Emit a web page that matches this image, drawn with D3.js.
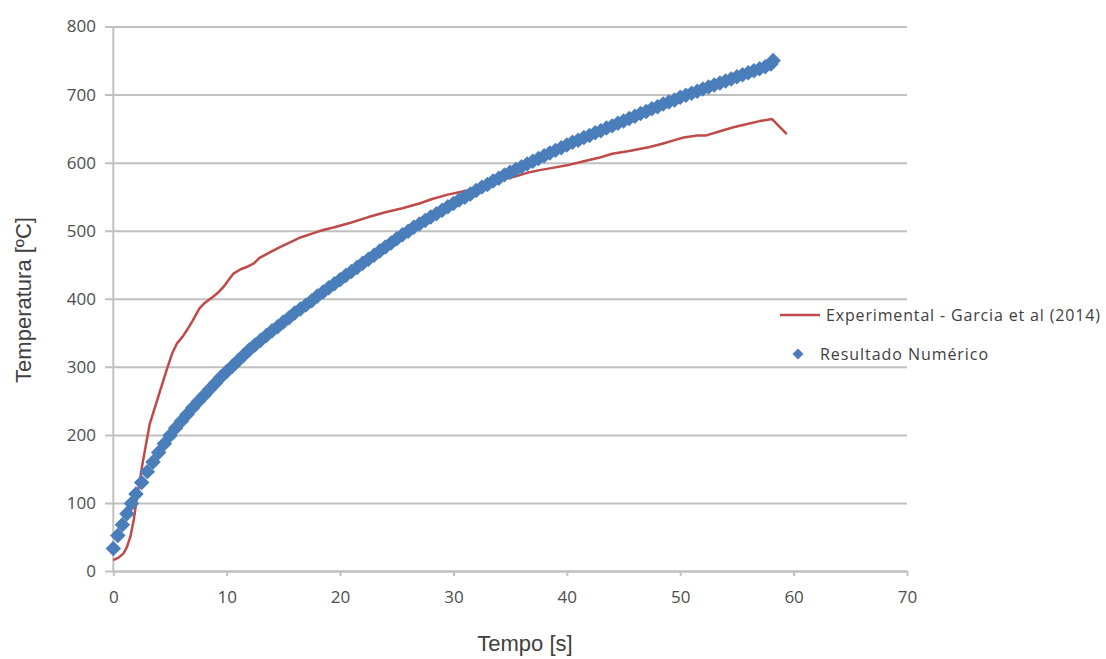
<!DOCTYPE html>
<html>
<head>
<meta charset="utf-8">
<script src="https://cdn.jsdelivr.net/npm/d3@7"></script>
<style>
  body { margin: 0; background: #fff; }
  text { font-family: "Open Sans", "DejaVu Sans", sans-serif; }
</style>
</head>
<body>
<div id="container"></div>
<script>
const w = 1106
const h = 659

// experimental curve (Garcia et al 2014): [time s, temperature C]
const expData = [
    [0, 16], [0.5, 20], [0.9, 26], [1.2, 35], [1.5, 50], [1.8, 75], [2.1, 109], [2.6, 160],
    [3.2, 215], [4, 258], [4.7, 295], [5.2, 320], [5.6, 334], [6.1, 344], [6.5, 354], [7, 368],
    [7.6, 386], [8, 393], [8.8, 403], [9.3, 410], [9.7, 417], [10.1, 426], [10.6, 437], [11.2, 443],
    [11.8, 447], [12.4, 452], [12.9, 460], [13.8, 468], [14.7, 476], [15.5, 482], [16.5, 490],
    [17.6, 496], [18.5, 501], [19.5, 505], [21, 512], [22.5, 520], [24, 527], [25.5, 533],
    [27, 540], [28.2, 547], [29.5, 553], [31.2, 559], [32.5, 565], [34.1, 574], [35.5, 580],
    [36.5, 585], [37.6, 589], [39, 593], [40, 596], [41.5, 602], [43, 608], [44, 613], [45.5, 617],
    [47.3, 623], [48.5, 628], [49.5, 633], [50.3, 637], [51.5, 640], [52.3, 640], [53.5, 646],
    [54.7, 652], [56, 657], [57, 661], [58.1, 664], [59.4, 642]
]

// numerical result: [time s, temperature C]
const numData = [
    [0, 33], [0.4, 52], [0.8, 68], [1.2, 84], [1.6, 99], [2, 113], [2.5, 130], [3, 146], [3.5, 160], [4, 174],
    [4.5, 187], [5, 199], [5.5, 210], [6, 220], [6.5, 230], [7, 240], [7.5, 249], [8, 258],
    [8.5, 267], [9, 276], [9.5, 285], [10, 293], [10.5, 301], [11, 309], [11.5, 317], [12, 325],
    [12.5, 332], [13, 339], [13.5, 346], [14, 353], [14.5, 359], [15, 366], [15.5, 372], [16, 379],
    [16.5, 385], [17, 391], [17.5, 397], [18, 404], [18.5, 410], [19, 416], [19.5, 422], [20, 428],
    [20.5, 434], [21, 440], [21.5, 446], [22, 452], [22.5, 458], [23, 464], [23.5, 470], [24, 476],
    [24.5, 482], [25, 488], [25.5, 494], [26, 499], [26.5, 505], [27, 510], [27.5, 515], [28, 520],
    [28.5, 525], [29, 530], [29.5, 535], [30, 540], [30.5, 545], [31, 549], [31.5, 554], [32, 559],
    [32.5, 564], [33, 568], [33.5, 573], [34, 577], [34.5, 582], [35, 586], [35.5, 590], [36, 594],
    [36.5, 598], [37, 602], [37.5, 606], [38, 610], [38.5, 614], [39, 618], [39.5, 622], [40, 626],
    [40.5, 630], [41, 633], [41.5, 637], [42, 640], [42.5, 644], [43, 647], [43.5, 651], [44, 654],
    [44.5, 658], [45, 661], [45.5, 665], [46, 668], [46.5, 672], [47, 675], [47.5, 679], [48, 682],
    [48.5, 686], [49, 689], [49.5, 692], [50, 696], [50.5, 699], [51, 702], [51.5, 705], [52, 708],
    [52.5, 711], [53, 714], [53.5, 717], [54, 720], [54.5, 723], [55, 726], [55.5, 729], [56, 732],
    [56.5, 735], [57, 738], [57.5, 741], [58, 745], [58.2, 750]
]

const xTicks = [0, 10, 20, 30, 40, 50, 60, 70]
const yTicks = [0, 100, 200, 300, 400, 500, 600, 700, 800]
const seriesNames = ['Experimental - Garcia et al (2014)', 'Resultado Numérico']
const xTitle = 'Tempo [s]'
const yTitle = 'Temperatura [ºC]'

const red = '#be4b48'
const blue = '#4a7ebb'
const grid = '#c0c0c0'

const scaleX = d3.scaleLinear([0, 70], [113.3, 907])
const scaleY = d3.scaleLinear([0, 800], [571, 26.5])

const svg = d3.select('#container')
    .append('svg')
    .attr('width', w)
    .attr('height', h)

// horizontal gridlines + y labels
const axisY = d3.axisLeft(scaleY)
    .tickValues(yTicks)
    .tickSize(-(907 - 105))
    .tickPadding(9)
    .tickSizeOuter(0)

const gy = svg.append('g')
    .attr('transform', 'translate(105,0)')
    .call(axisY)
gy.select('.domain').remove()
gy.selectAll('line').attr('stroke', grid).attr('stroke-width', 2)
gy.selectAll('text')
    .attr('fill', '#4d4d4d')
    .style('font-size', '17px')

// y axis line
svg.append('line')
    .attr('x1', scaleX(0)).attr('x2', scaleX(0))
    .attr('y1', scaleY(800)).attr('y2', scaleY(0))
    .attr('stroke', grid).attr('stroke-width', 2)

// x axis
const axisX = d3.axisBottom(scaleX)
    .tickValues(xTicks)
    .tickSize(5)
    .tickPadding(15)
    .tickSizeOuter(0)

const gx = svg.append('g')
    .attr('transform', `translate(0,${scaleY(0)})`)
    .call(axisX)
gx.select('.domain').attr('stroke', grid).attr('stroke-width', 2)
gx.selectAll('line').attr('stroke', grid).attr('stroke-width', 2)
gx.selectAll('text')
    .attr('fill', '#4d4d4d')
    .style('font-size', '17px')

// experimental line
const line = d3.line()
    .x(d => scaleX(d[0]))
    .y(d => scaleY(d[1]))

svg.append('path')
    .datum(expData)
    .attr('d', line)
    .attr('fill', 'none')
    .attr('stroke', red)
    .attr('stroke-width', 2.5)
    .attr('stroke-linejoin', 'round')

// numerical diamonds
const diamond = d3.symbol().type(d3.symbolSquare).size(120)

svg.append('g')
    .selectAll('path')
    .data(numData)
    .enter()
    .append('path')
    .attr('d', diamond)
    .attr('transform', d => `translate(${scaleX(d[0])},${scaleY(d[1])}) rotate(45)`)
    .attr('fill', blue)

// axis titles
svg.append('text')
    .text(xTitle)
    .attr('x', 525)
    .attr('y', 651)
    .attr('text-anchor', 'middle')
    .attr('fill', '#404040')
    .style('font-family', '"Liberation Sans", Arial, sans-serif')
    .style('font-size', '22px')

svg.append('text')
    .text(yTitle)
    .attr('transform', 'translate(31,300) rotate(-90)')
    .attr('text-anchor', 'middle')
    .attr('fill', '#404040')
    .style('font-family', '"Liberation Sans", Arial, sans-serif')
    .style('font-size', '22px')

// legend
const legend = svg.append('g').attr('id', 'legend')

legend.append('line')
    .attr('x1', 780).attr('x2', 820)
    .attr('y1', 315).attr('y2', 315)
    .attr('stroke', red).attr('stroke-width', 2.5)

legend.append('text')
    .text(seriesNames[0])
    .attr('x', 826)
    .attr('y', 321)
    .attr('fill', '#404040')
    .attr('textLength', 274)
    .style('font-size', '16px')

legend.append('path')
    .attr('d', d3.symbol().type(d3.symbolSquare).size(60))
    .attr('transform', 'translate(798,354) rotate(45)')
    .attr('fill', blue)

legend.append('text')
    .text(seriesNames[1])
    .attr('x', 820)
    .attr('y', 360)
    .attr('fill', '#404040')
    .attr('textLength', 168)
    .style('font-size', '16px')
</script>
</body>
</html>
